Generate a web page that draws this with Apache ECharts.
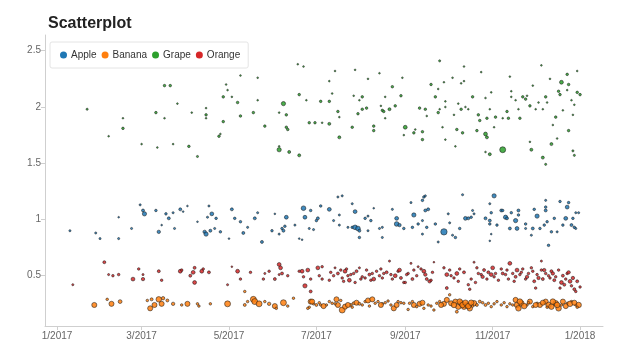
<!DOCTYPE html>
<html>
<head>
<meta charset="utf-8">
<script src="https://cdn.jsdelivr.net/npm/echarts@6/dist/echarts.min.js"></script>
<style>html,body{margin:0;padding:0;background:#fff}#chart{width:623px;height:359px}</style>
</head>
<body>
<div id="chart"></div>
<script>
// [day offset from 2017-01-01, value, point size]
const apple = [
[9,0.90,2.5],[27,0.88,2.5],[30,0.83,2.5],[43,1.02,2],[43,0.83,2.5],[52,0.92,2.5],[58,1.13,2.5],[60,1.08,3.5],[61,1.05,5],[69,1.08,3],[71,0.89,4],[73,0.95,2],[76,1.05,3],[78,1.01,3.5],[81,1.06,2.5],[82,0.92,2.5],[86,1.09,3.5],[88,1.07,2],[91,1.12,2],[98,0.98,2],[103,0.89,4],[104,0.87,5],[105,1.02,2.5],[106,1.12,2.5],[107,0.90,3.5],[108,1.05,4.5],[110,0.92,2.5],[111,1.01,3],[114,0.89,3],[120,0.83,2],[122,1.09,3.5],[124,1.01,3],[128,0.98,3],[130,0.88,3.5],[133,0.93,2.5],[138,1.01,3.5],[140,1.06,2.5],[143,0.80,3.5],[150,0.90,3],[152,1.05,2],[155,0.87,2.5],[157,0.92,3],[158,0.90,3.5],[159,0.94,3],[160,1.02,4.5],[166,0.95,2.5],[172,1.10,5.5],[173,1.02,4.5],[177,1.08,3],[176,0.92,2.5],[179,0.91,2.5],[181,0.99,3],[182,1.01,3.5],[184,1.12,3],[169,0.83,2],[171,0.82,2],
[190,1.09,4.5],[196,1.20,2.5],[199,1.21,2.5],[193,0.99,2.5],[197,1.04,2.5],[197,0.95,2.5],[206,1.14,2.5],[208,1.07,4.5],[203,0.93,2.5],[206,0.93,3],[208,0.93,5.5],[210,0.92,5.5],[211,0.90,3.5],[211,0.84,3],[215,1.01,3],[217,1.03,2.5],[219,0.99,3],[217,0.90,2.5],[221,1.10,2],[225,0.92,2.5],[227,0.93,2.5],[227,0.84,2.5],[234,1.09,2.5],[237,1.01,4.5],[237,0.96,5.5],[239,0.95,4],[242,0.92,3],[247,1.15,2.5],[248,0.93,3],[249,1.04,5],[252,0.96,3],[255,1.17,3],[256,1.20,3],[257,1.21,2.5],[257,1.08,3.5],[259,1.09,3.5],[255,0.99,2.5],[258,0.93,3],[255,0.87,2.5],[264,0.96,3],[266,0.80,2.5],[270,0.89,7.5],[273,1.05,2.5],[274,0.97,2.5],[276,0.86,2.5],[278,0.84,3],[281,0.92,3],[283,1.22,2.5],[285,1.01,4.5],[287,1.01,3.5],[290,1.08,2.5],[291,1.05,2.5],[289,1.02,3],[299,1.01,3.5],[302,0.99,3.5],[302,0.96,3],[303,1.06,3],[305,1.21,5],[302,1.14,2.5],[303,0.87,2],[302,0.81,2],[307,0.95,3],[310,1.08,3.5],[311,1.08,3],[313,1.02,5],[314,1.01,3.5],[316,0.92,3.5],[317,1.06,3],[320,0.99,5],[321,0.92,4.5],[322,1.08,3.5],[322,1.04,3],[327,0.96,3],[327,0.92,2.5],[332,0.92,3.5],[331,0.86,2.5],[333,1.09,3],[335,1.03,5],[337,0.92,3],[340,0.95,3],[341,1.08,3.5],[341,1.11,3],[341,1.17,2.5],[342,0.98,3],[343,0.77,3],[345,0.89,3],[347,1.01,3],[351,1.16,3],[353,0.95,3],[355,1.01,4.5],[356,1.11,4.5],[357,1.15,3],[359,0.95,3.5],[360,1.01,3],[361,0.93,3],[362,1.06,2.5],[364,1.06,2.5],[362,0.92,2.5],[349,0.89,2.5]
];
const banana = [
[26,0.24,6],[35,0.29,3],[38,0.25,6],[44,0.27,4.5],[63,0.28,3],[66,0.29,3.5],[68,0.24,6],[71,0.29,6.5],[73,0.25,6],[74,0.30,4],[65,0.21,6],[77,0.28,3.5],[81,0.25,4],[87,0.24,3],[91,0.25,6],[98,0.25,3],[99,0.23,3],[107,0.25,3],[119,0.25,7],[131,0.24,3.5],[133,0.27,3],[131,0.36,3],[137,0.29,7],[138,0.27,7],[141,0.25,7],[145,0.27,3],[148,0.25,4],[152,0.23,6],[153,0.21,3],[158,0.26,7],[161,0.23,3],[165,0.30,3],[177,0.27,6],[179,0.25,3],[176,0.22,3],[184,0.24,3],
[175,0.21,3],[178,0.27,6],[181,0.24,3.5],[188,0.24,3],[192,0.255,3],[195,0.29,6],[196,0.24,6],[199,0.195,7],[201,0.225,6],[205,0.24,3.5],[207,0.255,3.5],[209,0.26,6],[211,0.25,3.5],[215,0.27,3],[217,0.28,6],[220,0.29,6],[222,0.255,3],[224,0.27,3],[227,0.25,3],[231,0.275,3],[235,0.21,6],[237,0.24,6],[238,0.27,3],[242,0.255,3],[245,0.20,3],[246,0.255,3],[249,0.24,6],[251,0.225,3],[253,0.25,6],[256,0.21,3],[259,0.24,3],[263,0.195,3],[265,0.255,3],[267,0.27,3],[270,0.25,6],[272,0.285,6],[274,0.33,3],[275,0.255,6],[278,0.27,6],[279,0.18,3.5],[280,0.225,6.5],[282,0.255,6.5],[284,0.225,6.5],[286,0.24,6.5],[288,0.21,6.5],[291,0.255,6.5],[293,0.24,3.5],[295,0.27,3.5],[299,0.24,3.5],[301,0.255,3],[303,0.225,3],[307,0.27,3],[310,0.24,3],[314,0.225,3],[316,0.25,3],[320,0.285,6],[321,0.24,6.5],[322,0.21,6.5],[324,0.255,6.5],[328,0.24,3],[330,0.27,6],[332,0.225,3],[335,0.255,3],[337,0.24,6],[341,0.27,6],[343,0.24,6.5],[345,0.225,6.5],[348,0.255,6.5],[350,0.21,6.5],[352,0.24,3],[356,0.255,3],[359,0.27,3],[362,0.24,3],[364,0.24,6.5],
[183,0.26,3],[186,0.23,6],[190,0.27,3],[194,0.25,3],[198,0.28,3],[203,0.24,6],[206,0.22,3],[213,0.24,3],[218,0.23,3],[226,0.24,6],[229,0.26,3],[233,0.24,3],[240,0.26,3],[248,0.27,3],[255,0.26,6],[261,0.23,3],[268,0.24,6],[277,0.24,6.5],[281,0.27,6.5],[283,0.24,6.5],[285,0.26,6.5],[287,0.23,6.5],[289,0.26,6.5],[290,0.23,3],[297,0.26,3],[305,0.25,3],[312,0.26,3],[318,0.24,3],[323,0.27,6.5],[326,0.23,6.5],[329,0.26,3],[334,0.24,6],[339,0.26,6],[342,0.22,3],[346,0.27,6.5],[349,0.24,6.5],[353,0.27,6],[355,0.23,6],[358,0.25,6.5],[361,0.26,6],[363,0.22,3]
];
const grape = [
[21,1.98,2.5],[36,1.74,2],[46,1.90,2],[46,1.81,3],[59,1.67,2],[69,1.95,3],[70,1.64,2],[75,1.90,2],[75,2.19,3],[79,2.19,3],[81,1.67,2],[84,2.03,2],[92,1.65,3],[94,1.95,2],[98,1.56,2.5],[104,1.99,2],[104,1.93,3],[104,1.90,2],[113,1.74,3],[114,1.76,2],[116,1.87,3],[116,2.09,3],[118,2.20,2],[119,2.15,2],[122,2.09,2],[126,2.04,3],[128,2.28,2],[128,1.92,3],[137,1.95,3],[140,2.26,2],[140,2.06,2],[145,1.83,3],[155,1.95,2],[158,2.03,5],[160,1.93,3],[160,1.82,3],[161,1.80,3],[155,1.65,2],[155,1.62,5],[162,1.60,3.5],[169,1.57,3.5],[168,2.38,2],[172,2.36,2],[169,2.11,3],[174,2.06,2],[176,1.86,3],[180,1.86,3],[184,2.05,3],[185,1.86,2],
[267,2.41,2.5],[194,2.32,2],[208,2.33,2],[190,2.23,2],[190,2.05,3],[192,2.12,2],[196,1.96,3],[197,1.91,2],[190,1.85,3.5],[197,1.73,3.5],[206,1.82,3],[207,2.10,2],[211,2.06,2],[213,1.98,3],[213,2.09,3],[216,1.99,3],[217,2.25,2],[210,1.94,3],[221,1.83,3],[221,1.79,3],[225,2.30,2],[226,2.01,2],[227,1.97,3],[228,1.96,3],[229,1.90,2],[229,2.09,2],[232,1.98,3.5],[234,2.18,3],[236,2.01,3],[240,2.10,3],[241,2.26,2],[243,1.82,4.5],[242,1.75,2],[249,1.77,3],[250,1.80,2],[253,1.99,3],[255,1.78,3],[255,1.71,3],[257,1.98,3],[258,1.92,2],[261,2.20,3],[264,2.09,3],[266,2.16,2],[267,1.98,2],[266,1.95,3],[270,2.22,2],[271,2.05,2],[271,2.00,2],[269,1.82,2],[271,1.71,2],[276,2.26,2],[278,1.65,2],[279,1.80,3],[277,1.93,2],[280,2.03,2],[282,1.98,3],[283,1.77,3],[284,2.36,2],[282,2.21,2],[284,2.23,2],[285,2.00,2],[287,1.98,2],[290,2.09,3],[294,1.93,3],[295,1.88,3],[293,1.79,3],[296,2.31,2],[299,1.76,4.5],[300,1.73,3.5],[299,1.60,2],[302,1.58,3.5],[299,2.08,2],[300,1.90,3],[302,1.98,2],[303,2.13,2],[305,1.82,2],[306,1.91,3],[311,1.90,2],[311,1.62,7],[314,1.96,3],[315,1.90,3],[316,2.27,2],[317,2.14,2],[317,2.09,2],[320,2.06,2],[322,1.98,2],[323,1.90,3],[325,2.09,3],[327,2.07,3],[328,2.10,2],[330,2.01,3],[330,1.69,2],[331,1.62,3.5],[332,2.19,2],[334,1.98,2],[336,2.04,2],[338,2.37,2],[339,1.55,3.5],[341,1.49,2.5],[339,1.98,2],[341,2.09,3],[342,2.04,2],[344,2.25,2],[345,1.67,3.5],[346,1.84,2],[348,1.91,3],[350,2.14,3],[351,2.11,3],[352,2.22,4.5],[353,1.97,2],[356,2.29,3],[356,2.15,2],[357,2.20,3],[357,1.79,3],[359,2.06,2],[360,1.93,2],[360,1.61,2.5],[361,1.57,2.5],[363,2.32,2],[363,2.13,3],[365,2.11,3],[361,2.02,2],[349,1.72,2]
];
const orange = [
[11,0.42,2.5],[33,0.62,3.5],[36,0.51,2.5],[39,0.50,3],[43,0.51,3],[53,0.47,4.5],[57,0.56,3],[60,0.51,2.5],[60,0.47,4],[71,0.54,3.5],[73,0.46,3],[86,0.54,4.5],[87,0.55,3],[93,0.50,3.5],[95,0.53,4.5],[96,0.57,3.5],[96,0.44,4.5],[101,0.54,4.5],[102,0.56,3],[106,0.53,3.5],[119,0.42,2.5],[122,0.58,2],[126,0.54,4.5],[128,0.47,3],[135,0.53,3],[144,0.47,3],[145,0.52,2.5],[148,0.54,3],[152,0.47,3.5],[155,0.60,4.5],[156,0.57,4.5],[157,0.52,3.5],[155,0.51,2.5],[161,0.50,3],[169,0.54,3],[171,0.54,4.5],[172,0.49,3],[175,0.55,4.5],[177,0.47,3],[173,0.41,5],[177,0.36,3.5],[182,0.57,4.5],[183,0.50,3],[185,0.47,3],[185,0.58,3],
[190,0.46,3],[193,0.50,3],[196,0.52,3.5],[198,0.55,3],[199,0.48,3],[201,0.54,4.5],[202,0.56,3],[204,0.46,4.5],[205,0.51,3],[207,0.52,3],[208,0.44,3],[211,0.57,2.5],[213,0.49,3],[215,0.48,3],[218,0.51,3.5],[219,0.46,3],[221,0.47,4.5],[223,0.54,3],[225,0.50,3],[226,0.56,3],[228,0.52,3],[232,0.63,2.5],[233,0.51,3],[236,0.50,4.5],[238,0.54,3],[239,0.55,4.5],[240,0.48,3.5],[242,0.44,3],[243,0.44,3],[245,0.52,3],[247,0.61,2.5],[249,0.55,3],[251,0.50,3],[254,0.56,3],[256,0.54,4.5],[257,0.51,4],[258,0.47,3.5],[260,0.45,4],[261,0.46,3],[263,0.62,2],[270,0.57,3],[272,0.39,3.5],[272,0.51,4.5],[274,0.55,3],[277,0.48,3],[279,0.52,4.5],[281,0.56,3],[287,0.42,3],[288,0.38,3],[289,0.47,3],[291,0.62,2.5],[292,0.44,3],[294,0.52,3],[296,0.51,3],[298,0.55,3.5],[300,0.47,3],[303,0.51,4.5],[304,0.57,4.5],[306,0.52,3],[308,0.46,3],[310,0.56,3],[313,0.51,3],[315,0.47,3],[316,0.61,4.5],[318,0.52,3],[319,0.45,3],[321,0.55,4.5],[323,0.51,3],[325,0.56,3],[327,0.47,3],[329,0.52,3],[331,0.57,3],[333,0.45,3.5],[334,0.39,3],[335,0.51,3],[338,0.55,3],[339,0.47,3.5],[341,0.52,3],[338,0.63,2.5],[343,0.50,3],[345,0.54,3.5],[347,0.46,3.5],[348,0.49,3],[351,0.39,3],[352,0.44,4.5],[354,0.42,3.5],[356,0.52,3],[358,0.45,4.5],[359,0.41,3],[361,0.38,3.5],[362,0.36,3],[365,0.40,3],
[191,0.53,3],[194,0.57,2.5],[200,0.45,3],[203,0.50,3],[209,0.54,3.5],[212,0.47,3],[216,0.55,3],[220,0.52,3],[227,0.48,3],[230,0.53,3.5],[234,0.47,3],[244,0.51,3],[248,0.47,3.5],[252,0.58,2.5],[262,0.53,3],[275,0.50,3],[280,0.45,3],[284,0.53,3.5],[293,0.57,3],[297,0.49,4],[301,0.53,3.5],[305,0.49,3],[311,0.52,3.5],[314,0.55,3],[320,0.49,3.5],[324,0.53,3],[328,0.49,4],[332,0.54,3],[336,0.48,4],[340,0.55,4],[344,0.48,3],[346,0.52,4],[350,0.55,3],[353,0.50,3.5],[355,0.47,3],[357,0.53,4],[360,0.48,4],[363,0.45,3.5]
];
const seriesNames = ['Apple','Banana','Grape','Orange'];
const seriesColors = ['#1f77b4','#ff7f0e','#2ca02c','#d62728'];
const xTickDates = ['2017-01-01','2017-03-01','2017-05-01','2017-07-01','2017-09-01','2017-11-01','2018-01-01'];
const xTickLabels = ['1/2017','3/2017','5/2017','7/2017','9/2017','11/2017','1/2018'];
const yTickValues = [0.5,1,1.5,2,2.5];
const yTickLabels = ['0.5','1','1.5','2','2.5'];

const DAY = 86400000;
const T0 = Date.UTC(2017,0,1);
const xTicks = xTickDates.map(s => Date.parse(s + 'T00:00:00Z'));
const toPoints = arr => arr.map(d => [T0 + d[0]*DAY, d[1], d[2]]);
const allData = [apple, banana, grape, orange];
const FONT = 'Liberation Sans, Arial, sans-serif';

const chart = echarts.init(document.getElementById('chart'), null, {renderer:'canvas'});
chart.setOption({
  animation: false,
  backgroundColor: '#fff',
  title: {
    text: 'Scatterplot', left: 43, top: 11,
    textStyle: {fontSize: 16, fontWeight: 'bold', color: '#222', fontFamily: FONT}
  },
  legend: {
    left: 50, top: 42,
    data: seriesNames,
    icon: 'circle', itemWidth: 7, itemHeight: 7, itemGap: 5,
    padding: [8, 8, 8, 10],
    borderColor: '#e4e4e4', borderWidth: 1, borderRadius: 2,
    backgroundColor: 'rgba(255,255,255,0.92)',
    itemStyle: {borderWidth: 0, opacity: 1},
    textStyle: {fontSize: 10, color: '#333', fontFamily: FONT, padding: [0,0,0,-1]}
  },
  grid: {left: 45, right: 20, top: 35, bottom: 33},
  xAxis: {
    type: 'value',
    min: T0 - 8.4*DAY, max: T0 + 381*DAY,
    axisLine: {show: true, lineStyle: {color: '#cfcfcf'}},
    axisTick: {show: true, length: 4, lineStyle: {color: '#cfcfcf'}, customValues: xTicks},
    axisLabel: {
      customValues: xTicks, color: '#666', fontSize: 10, fontFamily: FONT, margin: 5,
      formatter: v => { const i = xTicks.findIndex(t => Math.abs(t - v) < DAY); return i >= 0 ? xTickLabels[i] : ''; }
    },
    splitLine: {show: false}
  },
  yAxis: {
    type: 'value',
    min: 0.053, max: 2.64,
    axisLine: {show: true, lineStyle: {color: '#cfcfcf'}},
    axisTick: {show: true, length: 4, lineStyle: {color: '#cfcfcf'}, customValues: yTickValues},
    axisLabel: {
      customValues: yTickValues, color: '#666', fontSize: 10, fontFamily: FONT, margin: 4,
      formatter: v => { const i = yTickValues.findIndex(t => Math.abs(t - v) < 1e-6); return i >= 0 ? yTickLabels[i] : ''; }
    },
    splitLine: {show: false}
  },
  series: seriesNames.map((name, i) => ({
    name, type: 'scatter',
    data: toPoints(allData[i]),
    symbolSize: d => d[2] * 0.85,
    itemStyle: {color: seriesColors[i], opacity: 0.85, borderColor: 'rgba(25,25,25,0.8)', borderWidth: 0.8}
  }))
});
</script>
</body>
</html>
